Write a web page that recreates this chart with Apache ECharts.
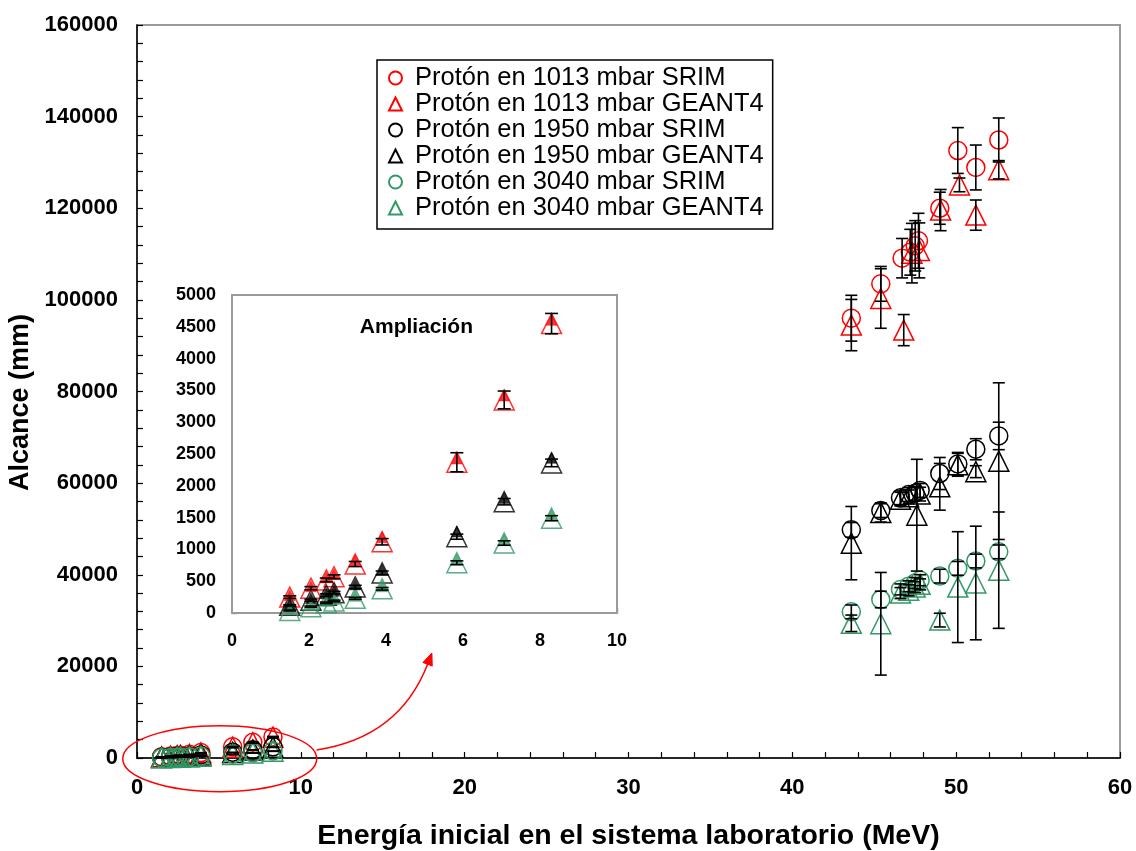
<!DOCTYPE html>
<html>
<head>
<meta charset="utf-8">
<script src="https://cdn.jsdelivr.net/npm/echarts@6/dist/echarts.min.js"></script>
<style>
  html, body { margin: 0; padding: 0; background: #fff; }
  #chart { width: 1136px; height: 851px; }
</style>
</head>
<body>
<div id="chart"></div>
<script>
const FONT = '"Liberation Sans", Arial, sans-serif';

// Series names and colours
const seriesNames = [
  'Protón en 1013 mbar SRIM', 'Protón en 1013 mbar GEANT4',
  'Protón en 1950 mbar SRIM', 'Protón en 1950 mbar GEANT4',
  'Protón en 3040 mbar SRIM', 'Protón en 3040 mbar GEANT4'
];
const colors = ['#ff0000', '#ff0000', '#000000', '#000000', '#339966', '#339966'];
const symbols = ['circle', 'triangle', 'circle', 'triangle', 'circle', 'triangle'];

// Tick values
const xTicksMain = [0, 10, 20, 30, 40, 50, 60];
const yTicksMain = [0, 20000, 40000, 60000, 80000, 100000, 120000, 140000, 160000];
const xTicksInset = [0, 2, 4, 6, 8, 10];
const yTicksInset = [0, 500, 1000, 1500, 2000, 2500, 3000, 3500, 4000, 4500, 5000];

// Low energy points (MeV) shared by every pressure, shown in the zoomed panel
const lowEnergy = [1.5, 2.05, 2.45, 2.65, 3.2, 3.9, 5.84, 7.07, 8.3];
const low1013Srim  = [280, 420, 560, 610, 830, 1190, 2430, 3420, 4610];
const low1013Geant = [250, 390, 520, 570, 770, 1120, 2370, 3350, 4550];
const low1013Err   = [20, 25, 30, 30, 40, 50, 150, 140, 160];
const low1950Srim  = [150, 230, 310, 350, 450, 680, 1280, 1810, 2440];
const low1950Geant = [120, 200, 280, 320, 410, 630, 1200, 1750, 2360];
const low1950Err   = [10, 15, 20, 20, 25, 30, 40, 50, 60];
const low3040Srim  = [60, 120, 190, 220, 270, 420, 840, 1150, 1540];
const low3040Geant = [40, 100, 160, 190, 230, 380, 790, 1100, 1490];
const low3040Err   = [8, 10, 12, 12, 15, 20, 30, 35, 40];

// High energy points: energy (MeV), range (mm), uncertainty (mm)
const e1013Srim  = [43.6, 45.4, 46.7, 47.2, 47.5, 47.7, 49.0, 50.1, 51.2, 52.6];
const r1013Srim  = [96000, 103500, 109100, 110400, 111800, 112900, 120000, 132600, 128900, 134900];
const d1013Srim  = [5000, 3800, 4300, 5000, 5500, 6000, 3500, 5000, 4900, 4800];
const e1013Geant = [43.6, 45.4, 46.8, 47.3, 47.75, 49.05, 50.2, 51.2, 52.6];
const r1013Geant = [94500, 100300, 93400, 110200, 110800, 119600, 125100, 118500, 128400];
const d1013Geant = [5600, 6500, 3400, 6500, 6000, 4500, 1500, 3300, 2000];

const e1950Srim  = [43.6, 45.4, 46.6, 47.1, 47.5, 47.8, 49.0, 50.1, 51.2, 52.6];
const r1950Srim  = [49800, 54000, 56800, 57500, 57800, 58400, 62100, 64200, 67400, 70300];
const d1950Srim  = [1600, 1500, 1500, 1500, 1500, 1500, 3500, 2500, 2300, 3000];
const e1950Geant = [43.6, 45.4, 46.6, 47.1, 47.6, 47.8, 49.0, 50.1, 51.2, 52.6];
const r1950Geant = [46900, 53600, 56500, 57000, 53000, 57600, 59200, 64000, 62500, 64800];
const d1950Geant = [8000, 2100, 1500, 1500, 12200, 1500, 5100, 2500, 1300, 17100];

const e3040Srim  = [43.6, 45.4, 46.6, 47.1, 47.5, 47.8, 49.0, 50.1, 51.2, 52.6];
const r3040Srim  = [31900, 34600, 36800, 37500, 38200, 38800, 39700, 41400, 43000, 45000];
const d3040Srim  = [1500, 1800, 1200, 1200, 1200, 1200, 1500, 1500, 1500, 1500];
const e3040Geant = [43.6, 45.4, 46.6, 47.1, 47.5, 47.8, 49.0, 50.1, 51.2, 52.6];
const r3040Geant = [29400, 29300, 36000, 36600, 37300, 37900, 30100, 37300, 38200, 41000];
const d3040Geant = [1800, 11200, 1200, 1200, 1200, 1200, 1500, 12100, 12400, 12700];

// Assemble each full series (low + high energy)
const lowSets = [
  [low1013Srim, low1013Err], [low1013Geant, low1013Err],
  [low1950Srim, low1950Err], [low1950Geant, low1950Err],
  [low3040Srim, low3040Err], [low3040Geant, low3040Err]
];
const highSets = [
  [e1013Srim, r1013Srim, d1013Srim], [e1013Geant, r1013Geant, d1013Geant],
  [e1950Srim, r1950Srim, d1950Srim], [e1950Geant, r1950Geant, d1950Geant],
  [e3040Srim, r3040Srim, d3040Srim], [e3040Geant, r3040Geant, d3040Geant]
];

function pointsOf(i) {
  const pts = lowEnergy.map((e, k) => [e, lowSets[i][0][k]]);
  highSets[i][0].forEach((e, k) => pts.push([e, highSets[i][1][k]]));
  return pts;
}
function barsOf(i) {
  const bars = [];
  // GEANT4 uncertainties at low energy
  if (i % 2 === 1) {
    lowEnergy.forEach((e, k) => {
      const v = lowSets[i][0][k], d = lowSets[i][1][k];
      bars.push([e, v - d, v + d]);
    });
  }
  highSets[i][0].forEach((e, k) => {
    const v = highSets[i][1][k], d = highSets[i][2][k];
    bars.push([e, v - d, v + d]);
  });
  return bars;
}

function errorBarRenderer(capHalf, width) {
  return function (params, api) {
    const x = api.value(0);
    const lo = api.coord([x, api.value(1)]);
    const hi = api.coord([x, api.value(2)]);
    const style = { stroke: '#000', lineWidth: width, fill: null };
    return {
      type: 'group',
      children: [
        { type: 'line', shape: { x1: hi[0], y1: hi[1], x2: lo[0], y2: lo[1] }, style },
        { type: 'line', shape: { x1: hi[0] - capHalf, y1: hi[1], x2: hi[0] + capHalf, y2: hi[1] }, style },
        { type: 'line', shape: { x1: lo[0] - capHalf, y1: lo[1], x2: lo[0] + capHalf, y2: lo[1] }, style }
      ]
    };
  };
}

const series = [];
seriesNames.forEach((name, i) => {
  series.push({
    name, type: 'scatter', xAxisIndex: 0, yAxisIndex: 0,
    symbol: symbols[i], symbolSize: i % 2 ? 20 : 18,
    itemStyle: { color: 'rgba(0,0,0,0)', borderColor: colors[i], borderWidth: 1.5, opacity: 1 },
    emphasis: { disabled: true }, z: 2,
    data: pointsOf(i)
  });
});
series.push({
  name: 'barras', type: 'custom', xAxisIndex: 0, yAxisIndex: 0,
  renderItem: errorBarRenderer(6, 1.6), z: 3, silent: true,
  encode: { x: 0, y: [1, 2] },
  data: [].concat(...seriesNames.map((_, i) => barsOf(i)))
});

// Zoomed panel: GEANT4 as open triangles, SRIM as small filled triangles
const insetBars = [];
[1, 3, 5].forEach(i => {
  series.push({
    name: 'inset-' + i, type: 'scatter', xAxisIndex: 1, yAxisIndex: 1,
    symbol: 'triangle', symbolSize: 20,
    itemStyle: { color: 'rgba(0,0,0,0)', borderColor: colors[i], borderWidth: 1.5 },
    emphasis: { disabled: true }, z: 5,
    data: lowEnergy.map((e, k) => [e, lowSets[i][0][k]])
  });
  lowEnergy.forEach((e, k) => {
    const v = lowSets[i][0][k], d = lowSets[i][1][k];
    insetBars.push([e, v - d, v + d]);
  });
});
[0, 2, 4].forEach(i => {
  series.push({
    name: 'inset-' + i, type: 'scatter', xAxisIndex: 1, yAxisIndex: 1,
    symbol: 'triangle', symbolSize: 11,
    itemStyle: { color: colors[i], borderColor: colors[i], borderWidth: 0.5 },
    emphasis: { disabled: true }, z: 6,
    data: lowEnergy.map((e, k) => [e, lowSets[i][0][k]])
  });
});
series.push({
  name: 'inset-barras', type: 'custom', xAxisIndex: 1, yAxisIndex: 1,
  renderItem: errorBarRenderer(6.5, 1.6), z: 7, silent: true,
  encode: { x: 0, y: [1, 2] },
  data: insetBars
});

const axisLine = { show: true, onZero: false, lineStyle: { color: '#000', width: 1.5 } };
const tickStyle = { color: '#000', width: 1.2 };
const plain = v => String(v);

const option = {
  animation: false,
  backgroundColor: '#fff',
  textStyle: { fontFamily: FONT },
  grid: [
    { left: 137, right: 16, top: 25, bottom: 93, show: true, borderColor: '#9a9a9a', borderWidth: 2, backgroundColor: '#fff', outerBoundsMode: 'none', containLabel: false },
    { left: 232, top: 295, width: 385, height: 318, show: true, borderColor: '#9a9a9a', borderWidth: 2, backgroundColor: '#fff', z: 4, outerBoundsMode: 'none', containLabel: false }
  ],
  legend: {
    data: seriesNames.map((n, i) => ({ name: n, icon: symbols[i] })),
    orient: 'vertical', left: 377, top: 60,
    backgroundColor: '#fff', borderColor: '#000', borderWidth: 1.5,
    padding: [5, 9, 8, 11], itemGap: 0, itemWidth: 13, itemHeight: 13,
    selectedMode: false, z: 10,
    textStyle: { fontFamily: FONT, fontSize: 25.5, lineHeight: 25.7, color: '#000', padding: [0, 0, 0, 8] }
  },
  xAxis: [
    {
      type: 'value', gridIndex: 0, min: xTicksMain[0], max: xTicksMain[xTicksMain.length - 1], interval: xTicksMain[1] - xTicksMain[0],
      name: 'Energía inicial en el sistema laboratorio (MeV)', nameLocation: 'middle', nameGap: 64,
      nameTextStyle: { fontFamily: FONT, fontSize: 28.5, fontWeight: 'bold', color: '#000' },
      axisLine, splitLine: { show: false },
      axisTick: { inside: true, length: 6, lineStyle: tickStyle },
      minorTick: { show: true, splitNumber: 5, length: 6, lineStyle: tickStyle },
      axisLabel: { fontFamily: FONT, fontSize: 22, fontWeight: 'bold', color: '#000', margin: 19, formatter: plain }
    },
    {
      type: 'value', gridIndex: 1, min: xTicksInset[0], max: xTicksInset[xTicksInset.length - 1], interval: xTicksInset[1] - xTicksInset[0],
      axisLine, splitLine: { show: false },
      axisTick: { inside: true, length: 5, lineStyle: tickStyle },
      minorTick: { show: true, splitNumber: 5, length: 4, lineStyle: tickStyle },
      axisLabel: { fontFamily: FONT, fontSize: 18, fontWeight: 'bold', color: '#000', margin: 19, formatter: plain }
    }
  ],
  yAxis: [
    {
      type: 'value', gridIndex: 0, min: yTicksMain[0], max: yTicksMain[yTicksMain.length - 1], interval: yTicksMain[1] - yTicksMain[0],
      name: 'Alcance (mm)', nameLocation: 'middle', nameGap: 81, nameRotate: 90,
      nameTextStyle: { fontFamily: FONT, fontSize: 27, fontWeight: 'bold', color: '#000', padding: [0, 22, 0, 0] },
      axisLine, splitLine: { show: false },
      axisTick: { inside: true, length: 6, lineStyle: tickStyle },
      minorTick: { show: true, splitNumber: 5, length: 6, lineStyle: tickStyle },
      axisLabel: { fontFamily: FONT, fontSize: 22, fontWeight: 'bold', color: '#000', margin: 19, formatter: plain }
    },
    {
      type: 'value', gridIndex: 1, min: yTicksInset[0], max: yTicksInset[yTicksInset.length - 1], interval: yTicksInset[1] - yTicksInset[0],
      axisLine, splitLine: { show: false },
      axisTick: { inside: true, length: 5, lineStyle: tickStyle },
      minorTick: { show: true, splitNumber: 5, length: 4, lineStyle: tickStyle },
      axisLabel: { fontFamily: FONT, fontSize: 18, fontWeight: 'bold', color: '#000', margin: 16, formatter: plain }
    }
  ],
  series
};

const chart = echarts.init(document.getElementById('chart'), null, { renderer: 'canvas' });
chart.setOption(option);

// Callout: ellipse round the low-energy cluster, curved arrow to the zoomed panel
const toMain = p => chart.convertToPixel({ gridIndex: 0 }, p);
const toInset = p => chart.convertToPixel({ gridIndex: 1 }, p);
const ellC = toMain([5.05, -150]);
const ellX = toMain([5.05 + 5.92, -150]);
const ellY = toMain([5.05, 7050]);
const arrowStart = toMain([10.96, 1750]);
const arrowCtrl = toMain([16.0, 4450]);
const arrowEnd = toMain([18.0, 22900]);
const dx = arrowEnd[0] - arrowCtrl[0], dy = arrowEnd[1] - arrowCtrl[1];
const len = Math.hypot(dx, dy), ux = dx / len, uy = dy / len;
const headL = 12, headW = 5;
const bx = arrowEnd[0] - ux * headL, by = arrowEnd[1] - uy * headL;
const labelPos = toInset([3.32, 4500]);

chart.setOption({
  graphic: [
    {
      type: 'ellipse', z: 20, silent: true,
      shape: { cx: ellC[0], cy: ellC[1], rx: ellX[0] - ellC[0], ry: ellC[1] - ellY[1] },
      style: { fill: null, stroke: '#ff0000', lineWidth: 1.5 }
    },
    {
      type: 'bezierCurve', z: 20, silent: true,
      shape: { x1: arrowStart[0], y1: arrowStart[1], cpx1: arrowCtrl[0], cpy1: arrowCtrl[1], x2: bx, y2: by },
      style: { fill: null, stroke: '#ff0000', lineWidth: 1.5 }
    },
    {
      type: 'polygon', z: 20, silent: true,
      shape: { points: [
        [arrowEnd[0], arrowEnd[1]],
        [bx - uy * headW, by + ux * headW],
        [bx + uy * headW, by - ux * headW]
      ] },
      style: { fill: '#ff0000', stroke: '#ff0000', lineWidth: 1 }
    },
    {
      type: 'text', z: 20, silent: true,
      x: labelPos[0], y: labelPos[1],
      style: { text: 'Ampliación', fill: '#000', font: 'bold 21px ' + FONT, textVerticalAlign: 'middle' }
    }
  ]
});
</script>
</body>
</html>
